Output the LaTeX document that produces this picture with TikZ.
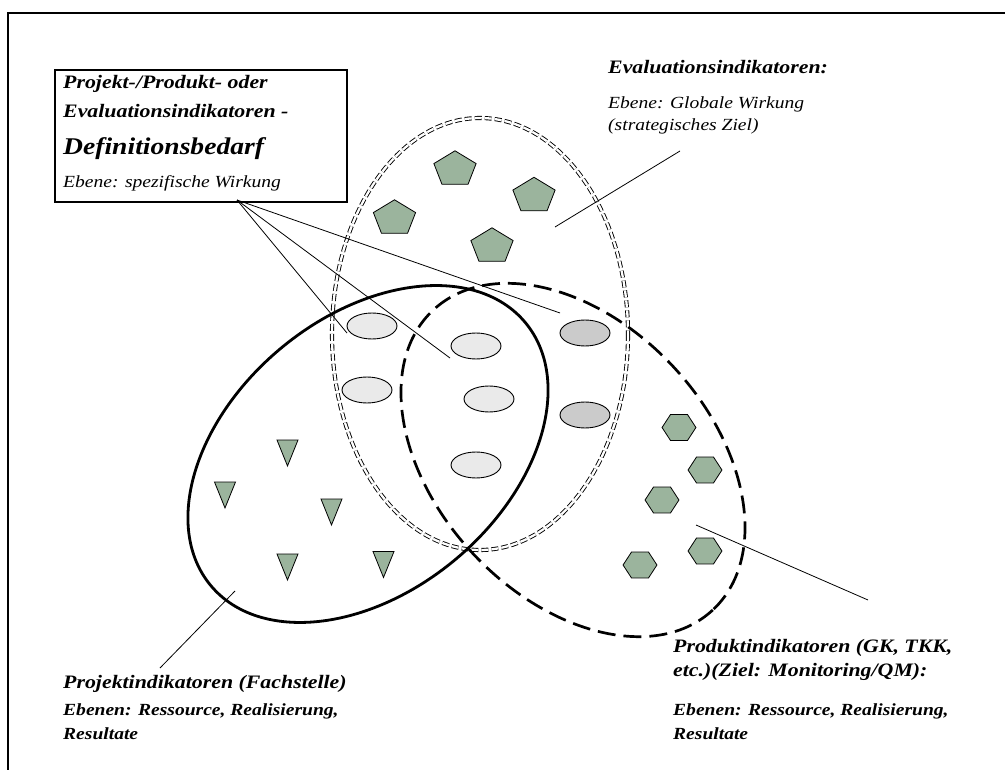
\documentclass[tikz,border=0pt]{standalone}
\usepackage{fontspec}
\setmainfont[FakeStretch=1.15]{Liberation Serif}
\usetikzlibrary{shapes.geometric}
\definecolor{shapegreen}{RGB}{155,180,157}
\definecolor{ellight}{RGB}{234,234,234}
\definecolor{eldark}{RGB}{203,203,203}
\tikzset{
  frameline/.style={line width=2pt},
  defbox/.style={draw, line width=1.8pt, minimum width=292pt, minimum height=132pt, anchor=north west, inner sep=0pt},
  hd/.style={anchor=base west, inner sep=0pt, font=\bfseries\itshape\fontsize{19}{23}\selectfont},
  bighd/.style={anchor=base west, inner sep=0pt, font=\bfseries\itshape\fontsize{24}{28}\selectfont},
  sub/.style={anchor=base west, inner sep=0pt, font=\itshape\fontsize{17}{20}\selectfont},
  bsub/.style={anchor=base west, inner sep=0pt, font=\bfseries\itshape\fontsize{17}{20}\selectfont},
  ptr/.style={line width=0.8pt},
  projell/.style={line width=2.8pt},
  prodell/.style={line width=2.7pt, dash pattern=on 18pt off 8pt},
  evalell/.style={line width=0.9pt, double, double distance=2.3pt, dash pattern=on 7pt off 3pt},
  smallel/.style={ellipse, draw, line width=0.9pt, minimum width=50pt, minimum height=26pt, inner sep=0pt},
  lightel/.style={smallel, fill=ellight},
  darkel/.style={smallel, fill=eldark},
  shapestyle/.style={fill=shapegreen, draw=black, line width=0.8pt, line join=miter},
  pent/.pic={\draw[shapestyle, xscale=1.2] (-90:18.5) -- (-18:18.5) -- (54:18.5) -- (126:18.5) -- (198:18.5) -- cycle;},
  hexa/.pic={\draw[shapestyle, xscale=1.13] (0:15) -- (60:15) -- (120:15) -- (180:15) -- (240:15) -- (300:15) -- cycle;},
  dtri/.pic={\draw[shapestyle] (-10.5,-13) -- (10.5,-13) -- (0,13) -- cycle;}
}
\begin{document}
\begin{tikzpicture}[x=1pt,y=-1pt]
\useasboundingbox (0,0) rectangle (1005,770);
% frame
\draw[frameline] (8,770) -- (8,13) -- (1005,13);

% big ellipses
\draw[evalell] (480,334) ellipse (148 and 216);
\draw[projell, rotate around={40:(368,454)}] (368,454) ellipse (205 and 137);
\draw[prodell, rotate around={-47:(573,460)}] (573,460) ellipse (205 and 137);

% definition box
\node[defbox] (box) at (54,69) {};
\node[hd] (t1) at (63,89) {Projekt-/Produkt- oder};
\node[hd] (t2) at (63,118) {Evaluationsindikatoren -};
\node[bighd] (t3) at (63,155) {Definitionsbedarf};
\node[sub] (t4) at (63,188) {Ebene: spezifische Wirkung};

% evaluation label
\node[hd] (ev) at (608,74) {Evaluationsindikatoren:};
\node[sub] (ev2) at (608,109) {Ebene: Globale Wirkung};
\node[sub] (ev3) at (608,130.5) {(strategisches Ziel)};

% project label
\node[hd] (pj) at (63,688) {Projektindikatoren (Fachstelle)};
\node[bsub] (pj2) at (63,715) {Ebenen: Ressource, Realisierung,};
\node[bsub] (pj3) at (63,739) {Resultate};

% product label
\node[hd] (pd) at (673,652) {Produktindikatoren (GK, TKK,};
\node[hd] (pd1) at (673,676) {etc.)(Ziel: Monitoring/QM):};
\node[bsub] (pd2) at (673,715) {Ebenen: Ressource, Realisierung,};
\node[bsub] (pd3) at (673,739) {Resultate};

% small ellipses
\node[lightel] (e1) at (372,326) {};
\node[lightel] (e2) at (367,390) {};
\node[lightel] (e3) at (476,346) {};
\node[lightel] (e4) at (489,399) {};
\node[lightel] (e5) at (476,465) {};
\node[darkel] (e6) at (585,333) {};
\node[darkel] (e7) at (585,415) {};

% pentagons
\pic at (455,169.3) {pent};
\pic at (534,195.8) {pent};
\pic at (394.5,218.3) {pent};
\pic at (492,246.3) {pent};

% hexagons
\pic at (679,427.5) {hexa};
\pic at (705,470) {hexa};
\pic at (662,500) {hexa};
\pic at (705,551) {hexa};
\pic at (640,565) {hexa};

% triangles
\pic at (287.5,453) {dtri};
\pic at (225,495) {dtri};
\pic at (331.5,512) {dtri};
\pic at (287.5,567) {dtri};
\pic at (383.5,564.5) {dtri};

% pointer lines
\coordinate (apex) at (237,200);
\coordinate (a1) at (347,333);
\coordinate (a2) at (450,358);
\coordinate (a3) at (560,313);
\draw[ptr] (apex) -- (a1);
\draw[ptr] (apex) -- (a2);
\draw[ptr] (apex) -- (a3);
\coordinate (evs) at (555,227);
\coordinate (eve) at (680,151);
\draw[ptr] (evs) -- (eve);
\coordinate (pjs) at (160,668);
\coordinate (pje) at (235,591);
\draw[ptr] (pjs) -- (pje);
\coordinate (pds) at (696,525);
\coordinate (pde) at (868,600);
\draw[ptr] (pds) -- (pde);
\end{tikzpicture}
\end{document}
